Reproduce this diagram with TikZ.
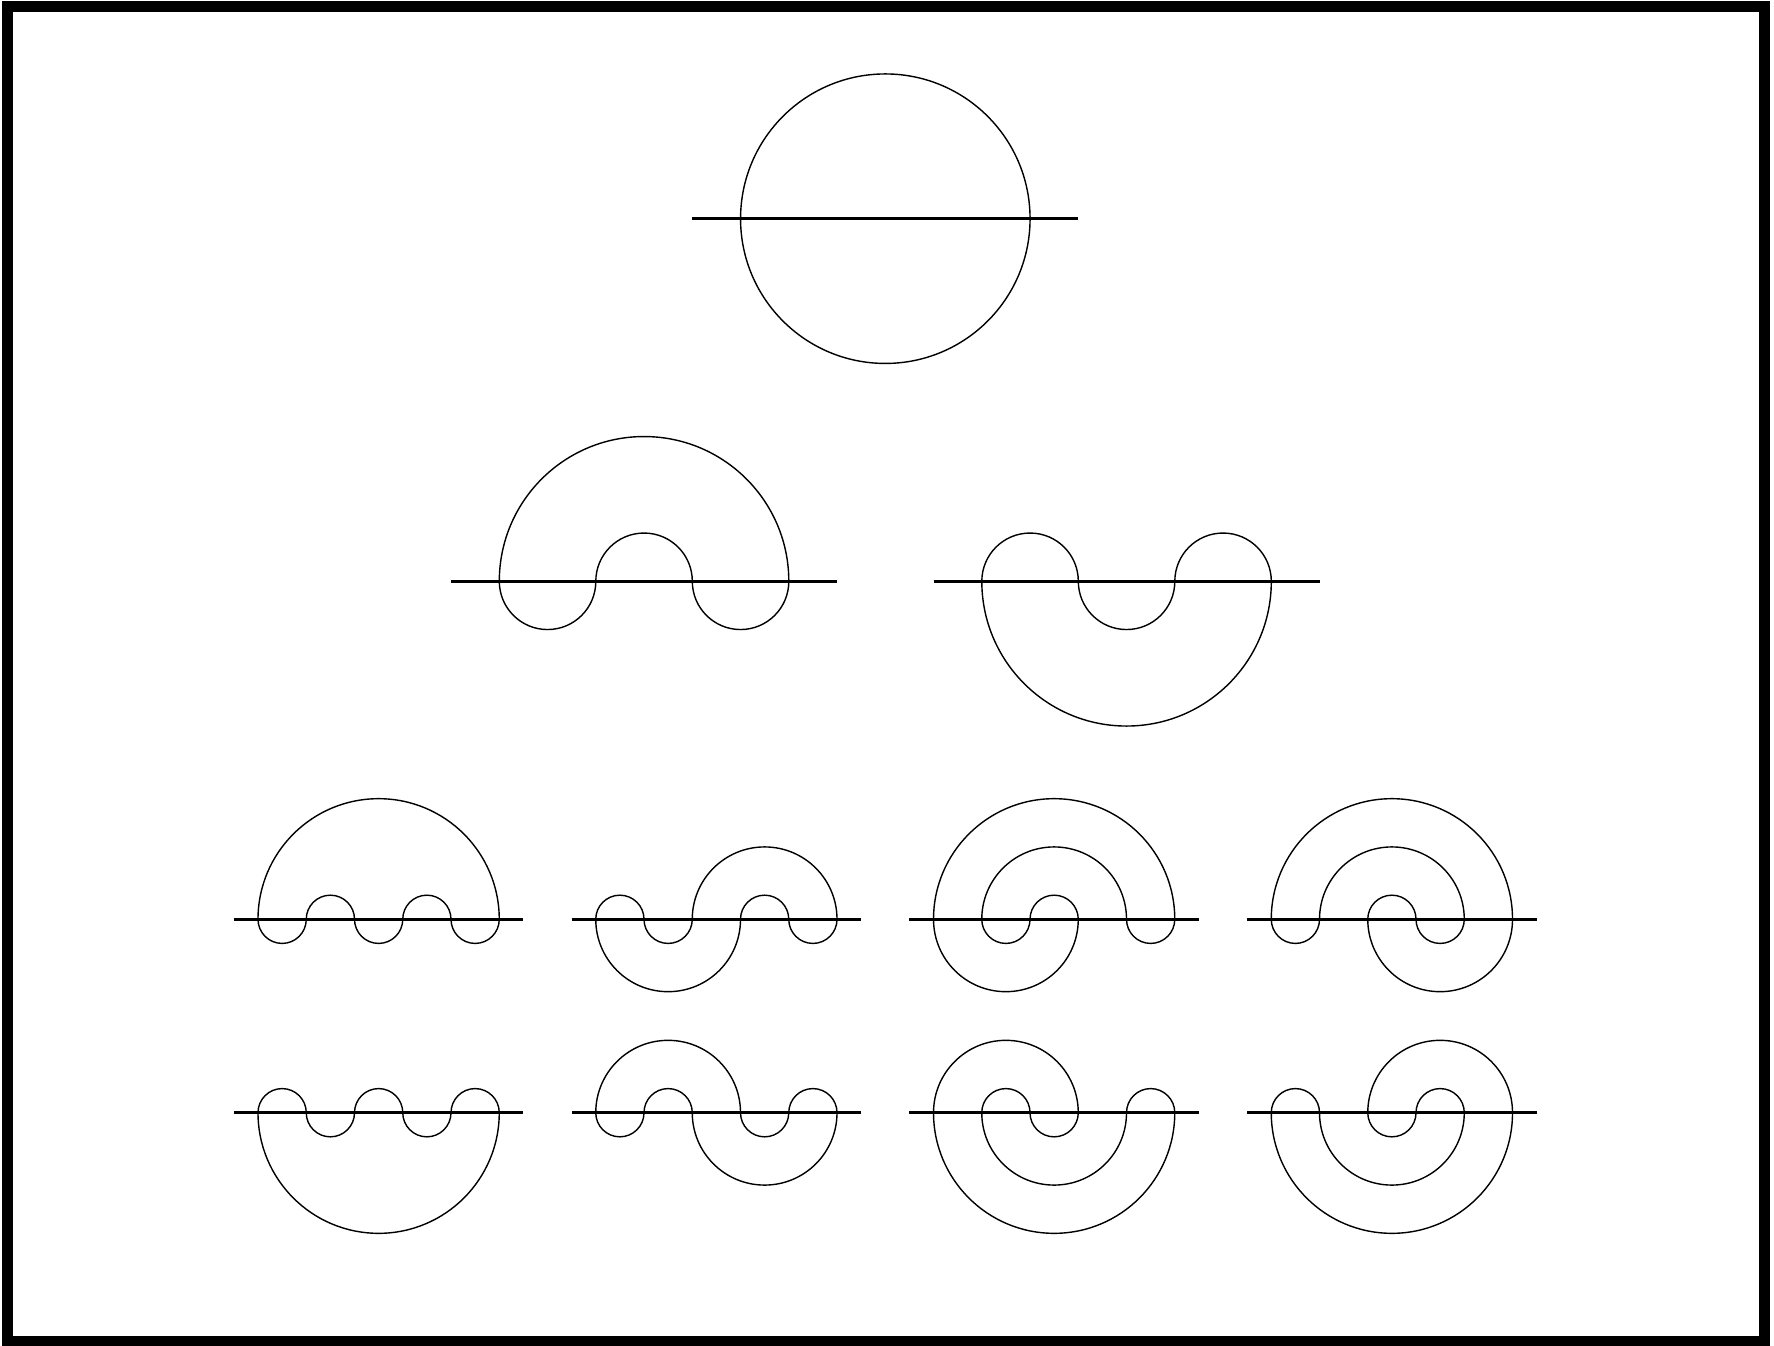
\documentclass[tikz,border=0pt]{standalone}
\tikzset{
  base/.style={line width=0.9pt, line cap=butt},
  curve/.style={line width=0.4pt},
  frame/.style={line width=0.11cm}
}
\newcommand\marc[6]{% x0, spacing, y, i, j, dir (1 above, 0 below)
  \pgfmathsetmacro\xa{#1+#4*#2}%
  \pgfmathsetmacro\rr{(#5-#4)*#2/2}%
  \ifnum#6=1
    \draw[curve] (\xa,#3) arc[start angle=180,end angle=0,radius=\rr];%
  \else
    \draw[curve] (\xa,#3) arc[start angle=180,end angle=360,radius=\rr];%
  \fi}
\newcommand\mbase[4]{% x0, spacing, y, n (last index)
  \pgfmathsetmacro\xl{#1-#2/2}%
  \pgfmathsetmacro\xr{#1+#4*#2+#2/2}%
  \draw[base] (\xl,#3) -- (\xr,#3);}
\begin{document}
\begin{tikzpicture}[x=0.01cm,y=0.01cm]
\useasboundingbox (0,0) rectangle (1774,1345);
\fill[white] (0,0) rectangle (1774,1345);
\draw[frame] (7.5,1338.5) rectangle (1764.5,3.5);

\def\u{96.5}
\def\h{48.25}
% top circle
\draw[curve] (885.3,1126.3) circle[radius=144.75];
\draw[base] (692.3,1126.3) -- (1078.3,1126.3);

% row 2
\def\yb{763.7}
\mbase{499.3}{\u}{\yb}{3}
\marc{499.3}{\u}{\yb}{0}{3}{1}
\marc{499.3}{\u}{\yb}{1}{2}{1}
\marc{499.3}{\u}{\yb}{0}{1}{0}
\marc{499.3}{\u}{\yb}{2}{3}{0}

\mbase{981.8}{\u}{\yb}{3}
\marc{981.8}{\u}{\yb}{0}{1}{1}
\marc{981.8}{\u}{\yb}{2}{3}{1}
\marc{981.8}{\u}{\yb}{0}{3}{0}
\marc{981.8}{\u}{\yb}{1}{2}{0}

% row 3
\def\yc{425.7}
\def\xA{258}
\def\xB{595.75}
\def\xC{933.5}
\def\xD{1271.25}
\mbase{\xA}{\h}{\yc}{5}
\marc{\xA}{\h}{\yc}{0}{5}{1}
\marc{\xA}{\h}{\yc}{1}{2}{1}
\marc{\xA}{\h}{\yc}{3}{4}{1}
\marc{\xA}{\h}{\yc}{0}{1}{0}
\marc{\xA}{\h}{\yc}{2}{3}{0}
\marc{\xA}{\h}{\yc}{4}{5}{0}

\mbase{\xB}{\h}{\yc}{5}
\marc{\xB}{\h}{\yc}{0}{1}{1}
\marc{\xB}{\h}{\yc}{2}{5}{1}
\marc{\xB}{\h}{\yc}{3}{4}{1}
\marc{\xB}{\h}{\yc}{0}{3}{0}
\marc{\xB}{\h}{\yc}{1}{2}{0}
\marc{\xB}{\h}{\yc}{4}{5}{0}

\mbase{\xC}{\h}{\yc}{5}
\marc{\xC}{\h}{\yc}{0}{5}{1}
\marc{\xC}{\h}{\yc}{1}{4}{1}
\marc{\xC}{\h}{\yc}{2}{3}{1}
\marc{\xC}{\h}{\yc}{0}{3}{0}
\marc{\xC}{\h}{\yc}{1}{2}{0}
\marc{\xC}{\h}{\yc}{4}{5}{0}

\mbase{\xD}{\h}{\yc}{5}
\marc{\xD}{\h}{\yc}{0}{5}{1}
\marc{\xD}{\h}{\yc}{1}{4}{1}
\marc{\xD}{\h}{\yc}{2}{3}{1}
\marc{\xD}{\h}{\yc}{0}{1}{0}
\marc{\xD}{\h}{\yc}{2}{5}{0}
\marc{\xD}{\h}{\yc}{3}{4}{0}

% row 4
\def\yd{232.3}
\mbase{\xA}{\h}{\yd}{5}
\marc{\xA}{\h}{\yd}{0}{1}{1}
\marc{\xA}{\h}{\yd}{2}{3}{1}
\marc{\xA}{\h}{\yd}{4}{5}{1}
\marc{\xA}{\h}{\yd}{0}{5}{0}
\marc{\xA}{\h}{\yd}{1}{2}{0}
\marc{\xA}{\h}{\yd}{3}{4}{0}

\mbase{\xB}{\h}{\yd}{5}
\marc{\xB}{\h}{\yd}{0}{3}{1}
\marc{\xB}{\h}{\yd}{1}{2}{1}
\marc{\xB}{\h}{\yd}{4}{5}{1}
\marc{\xB}{\h}{\yd}{0}{1}{0}
\marc{\xB}{\h}{\yd}{2}{5}{0}
\marc{\xB}{\h}{\yd}{3}{4}{0}

\mbase{\xC}{\h}{\yd}{5}
\marc{\xC}{\h}{\yd}{0}{3}{1}
\marc{\xC}{\h}{\yd}{1}{2}{1}
\marc{\xC}{\h}{\yd}{4}{5}{1}
\marc{\xC}{\h}{\yd}{0}{5}{0}
\marc{\xC}{\h}{\yd}{1}{4}{0}
\marc{\xC}{\h}{\yd}{2}{3}{0}

\mbase{\xD}{\h}{\yd}{5}
\marc{\xD}{\h}{\yd}{0}{1}{1}
\marc{\xD}{\h}{\yd}{2}{5}{1}
\marc{\xD}{\h}{\yd}{3}{4}{1}
\marc{\xD}{\h}{\yd}{0}{5}{0}
\marc{\xD}{\h}{\yd}{1}{4}{0}
\marc{\xD}{\h}{\yd}{2}{3}{0}
\end{tikzpicture}
\end{document}
